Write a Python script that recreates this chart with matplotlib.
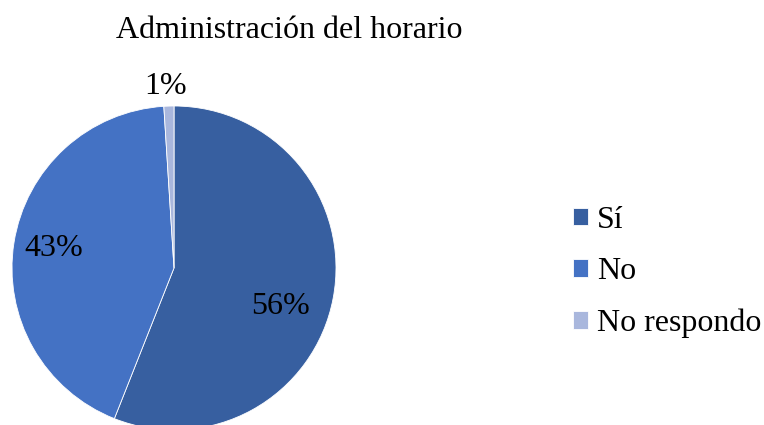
import numpy as np
import matplotlib.pyplot as plt

labels = ["Sí", "No", "No respondo"]
values = [56, 43, 1]
colors = ["#375FA0", "#4472C4", "#A9B7DD"]

plt.rcParams['font.family'] = ['Liberation Serif', 'DejaVu Serif']

fig = plt.figure(figsize=(7.64, 4.25), dpi=100)

# pie axes: centre ~ (174, 268) px, radius ~162 px
cx, cy, r = 174, 268, 162
ax = fig.add_axes([(cx - r) / 764, (425 - cy - r) / 425, 2 * r / 764, 2 * r / 425])

wedges, texts, autotexts = ax.pie(values, colors=colors, startangle=90, counterclock=False,
                                  autopct='%1.0f%%', pctdistance=0.83,
                                  wedgeprops=dict(edgecolor='white', linewidth=0.6),
                                  textprops=dict(fontsize=23, color='black'))

# label placement (radius, angle shift in degrees) similar to the Excel "best fit"
place = [(0.70, -9), (0.75, 0), (1.12, 1)]
for w, t, (rad, dang) in zip(wedges, autotexts, place):
    ang = np.deg2rad((w.theta1 + w.theta2) / 2 + dang)
    t.set_position((rad * np.cos(ang), rad * np.sin(ang)))

ax.set_xlim(-1, 1)
ax.set_ylim(-1, 1)
ax.set_aspect('equal')

fig.text(289 / 764, 1 - 30 / 425, "Administración del horario", fontsize=23,
         ha='center', va='center')

fig.legend(wedges, labels, loc='center left', bbox_to_anchor=(557 / 764, 1 - 272 / 425),
           frameon=False, fontsize=23, borderpad=0, handlelength=0.47, handleheight=0.47,
           handletextpad=0.28, labelspacing=0.7)

fig.savefig("out.png", dpi=100)
